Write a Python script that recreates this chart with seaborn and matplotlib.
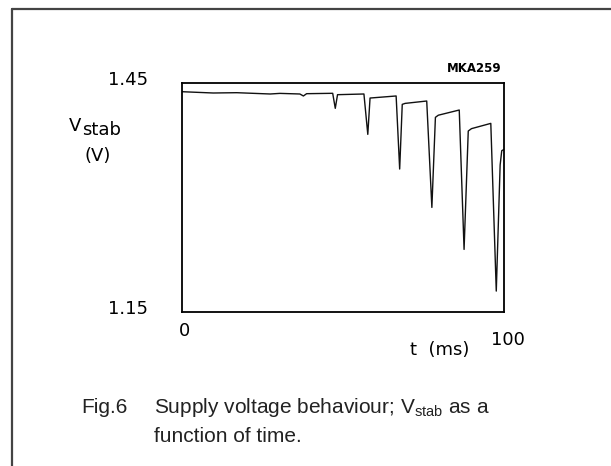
import numpy as np
import pandas as pd
import seaborn as sns
import matplotlib
matplotlib.use("Agg")
import matplotlib.pyplot as plt
from matplotlib.lines import Line2D
from matplotlib.transforms import ScaledTranslation

# ---- data ----
t_ms = [0.0, 9.7, 17.0, 27.4, 30.4, 36.6, 37.7, 38.7, 46.8, 47.6, 48.3,
        56.5, 57.7, 58.4, 66.5, 67.6, 68.4, 69.3, 76.0, 77.6, 78.7, 79.6,
        86.1, 87.6, 88.9, 89.9, 95.9, 97.6, 98.8, 99.3, 100.0]
v_stab = [1.4386, 1.4369, 1.4373, 1.4356, 1.4364, 1.4356, 1.4330, 1.4360, 1.4365, 1.4168, 1.4347,
          1.4356, 1.3827, 1.4303, 1.4330, 1.3373, 1.4220, 1.4233, 1.4264, 1.2870, 1.4050, 1.4078,
          1.4146, 1.2320, 1.3871, 1.3902, 1.3971, 1.1774, 1.3425, 1.3613, 1.3630]
x_ticks = [0, 100]
x_ticklabels = ["0", "100"]
y_ticks = [1.15, 1.45]
y_ticklabels = ["1.15", "1.45"]

df = pd.DataFrame({"t": t_ms, "v": v_stab})

sns.set_style("white")
plt.rcParams["font.family"] = ["DejaVu Sans"]

W, H = 611, 466
fig = plt.figure(figsize=(W / 100, H / 100), dpi=100)
ax = fig.add_axes([182 / W, 1 - 312 / H, (504 - 182) / W, (312 - 83) / H])

sns.lineplot(data=df, x="t", y="v", ax=ax, color="#111111", linewidth=1.0)

ax.set_xlim(0, 100)
ax.set_ylim(1.15, 1.45)
ax.set_xlabel("")
ax.set_ylabel("")
for s in ax.spines.values():
    s.set_color("black")
    s.set_linewidth(1.3)

ax.set_xticks(x_ticks)
ax.set_xticklabels(x_ticklabels)
ax.set_yticks(y_ticks)
ax.set_yticklabels(y_ticklabels)
ax.tick_params(axis="both", direction="inout", length=5, width=1.2, color="black",
               labelsize=13, labelcolor="black")
ax.tick_params(axis="y", pad=22)
ax.tick_params(axis="x", pad=5)

# per-label nudges
for lab in ax.get_yticklabels():
    lab.set_transform(lab.get_transform() + ScaledTranslation(0, 4.5 / 100, fig.dpi_scale_trans))
xl = ax.get_xticklabels()
xl[0].set_transform(xl[0].get_transform() + ScaledTranslation(2 / 100, 0, fig.dpi_scale_trans))
xl[1].set_transform(xl[1].get_transform() + ScaledTranslation(4 / 100, -9 / 100, fig.dpi_scale_trans))

def fx(x):
    return x / W

def fy(y):
    return 1 - y / H

# axis labels
fig.text(fx(69), fy(117), "V", fontsize=13, ha="left", va="top", color="black")
fig.text(fx(82), fy(135), "stab", fontsize=13, ha="left", va="baseline", color="black")
fig.text(fx(98), fy(156), "(V)", fontsize=13, ha="center", va="center", color="black")
fig.text(fx(440), fy(350), "t  (ms)", fontsize=13, ha="center", va="center", color="black")
fig.text(fx(502), fy(68.5), "MKA259", fontsize=8.5, fontweight="bold", ha="right", va="center",
         color="black")

# caption
cap = dict(fontsize=15, family=["Liberation Sans", "DejaVu Sans"], color="#222222", va="baseline")
fig.text(fx(81), fy(413), "Fig.6", ha="left", **cap)
fig.text(fx(154), fy(413), "Supply voltage behaviour; V$_{\\mathregular{stab}}$ as a", ha="left", **cap)
fig.text(fx(154), fy(442), "function of time.", ha="left", **cap)

# outer frame (top and left edges)
fig.add_artist(Line2D([fx(11.5), 1.0], [fy(8.7), fy(8.7)], color="#444444", linewidth=1.6))
fig.add_artist(Line2D([fx(11.5), fx(11.5)], [fy(8.7), 0.0], color="#444444", linewidth=1.6))

fig.savefig("out.png", dpi=100)
